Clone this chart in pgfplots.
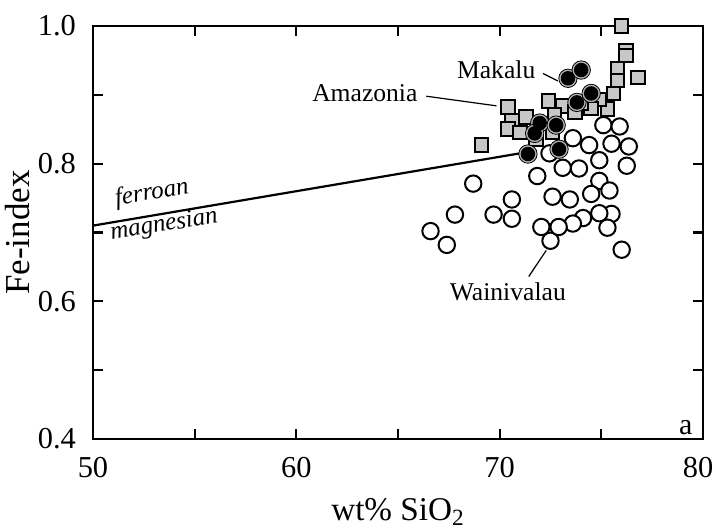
\documentclass[border=0pt]{standalone}
\usepackage{fontspec}
\setmainfont{Liberation Serif}
\usepackage{pgfplots}
\pgfplotsset{compat=1.18}
\usepackage{pgfplotstable}

\pgfplotstableread{
x y
76.0 1.0
76.2 0.964
76.2 0.957
75.8 0.938
75.8 0.921
76.8 0.925
75.6 0.902
75.3 0.879
74.9 0.893
74.5 0.880
72.4 0.891
73.1 0.884
72.7 0.871
70.4 0.882
70.6 0.862
71.3 0.868
70.4 0.850
71.0 0.845
71.8 0.835
72.6 0.845
69.1 0.827
73.7 0.875
74.0 0.888
}\squaresdata

\pgfplotstableread{
x y
68.7 0.771
67.8 0.726
66.6 0.702
67.4 0.682
69.7 0.726
70.6 0.748
70.6 0.720
71.85 0.782
72.05 0.708
72.5 0.688
73.1 0.794
73.9 0.793
74.9 0.805
76.25 0.797
74.9 0.775
75.4 0.761
74.5 0.756
72.6 0.752
73.45 0.748
75.5 0.727
74.9 0.728
74.1 0.721
73.6 0.713
72.9 0.708
75.3 0.707
76.0 0.675
75.1 0.856
75.9 0.854
73.6 0.837
74.4 0.827
75.5 0.829
76.35 0.825
72.45 0.815
}\circlesdata

\pgfplotstableread{
x y
73.36 0.924
74.01 0.936
73.8 0.889
74.5 0.902
71.97 0.859
71.72 0.844
72.78 0.856
71.39 0.814
72.92 0.821
}\blackdata

\begin{document}
\begin{tikzpicture}
\begin{axis}[
  scale only axis, width=305pt, height=206.5pt,
  xmin=50, xmax=80, ymin=0.4, ymax=1.0,
  xtick={50,60,70,80}, minor xtick={55,65,75},
  xticklabels={50,60,70,{80\kern5pt}},
  ytick={0.4,0.6,0.8,1.0}, minor ytick={0.5,0.7,0.9},
  yticklabel style={/pgf/number format/fixed, /pgf/number format/fixed zerofill, /pgf/number format/precision=1, xshift=-5pt},
  /pgf/number format/assume math mode=true,
  tick align=inside, major tick length=5pt, minor tick length=5pt,
  every tick/.style={line width=1.1pt, black},
  axis line style={line width=1.2pt},
  ticklabel style={font=\fontsize{15.2}{17}\selectfont},
  xticklabel style={yshift=-5.5pt},
  xlabel style={font=\fontsize{16.6}{18}\selectfont, yshift=-3.5pt},
  ylabel style={font=\fontsize{17.5}{19}\selectfont},
  ylabel shift=-3pt,
  xlabel={wt\% SiO\textsubscript{2}},
  ylabel={Fe-index},
  clip=false,
]
\coordinate (ll) at (rel axis cs:0,0);
\addplot[line width=1.1pt, black] coordinates {(50,0.71) (71.4,0.817)};
\addplot[only marks, mark=square*, mark size=3.4pt, mark options={fill=black!22, draw=black, line width=1pt}] table {\squaresdata};
\addplot[only marks, mark=*, mark size=4.1pt, mark options={fill=white, draw=black, line width=1pt}] table {\circlesdata};
\addplot[only marks, mark=*, mark size=4.6pt, mark options={fill=black!30, draw=none}] table {\blackdata};
\addplot[only marks, mark=*, mark size=3.4pt, mark options={fill=black, draw=black}] table {\blackdata};
\node[font=\fontsize{12.8}{14}\selectfont] at (axis cs:69.83,0.936) {Makalu};
\draw[line width=0.6pt] (axis cs:72.13,0.931) -- (axis cs:72.87,0.920);
\node[font=\fontsize{12.8}{14}\selectfont] at (axis cs:63.37,0.903) {Amazonia};
\draw[line width=0.6pt] (axis cs:66.39,0.898) -- (axis cs:69.84,0.884);
\node[font=\fontsize{12.8}{14}\selectfont] at (axis cs:70.4,0.614) {Wainivalau};
\draw[line width=0.6pt] (axis cs:72.29,0.674) -- (axis cs:71.43,0.636);
\node[font=\itshape\fontsize{12.5}{14}\selectfont, rotate=9.2] at (axis cs:52.9,0.757) {ferroan};
\node[font=\itshape\fontsize{12.5}{14}\selectfont, rotate=9.2] at (axis cs:53.5,0.710) {magnesian};
\node[font=\fontsize{15}{16}\selectfont, anchor=south east, inner sep=2pt] at (rel axis cs:0.99,0.0) {a};
\end{axis}
\pgfresetboundingbox
\path[use as bounding box] (ll) ++(-46.5pt,-44.5pt) rectangle ++(358pt,264pt);
\end{tikzpicture}
\end{document}
